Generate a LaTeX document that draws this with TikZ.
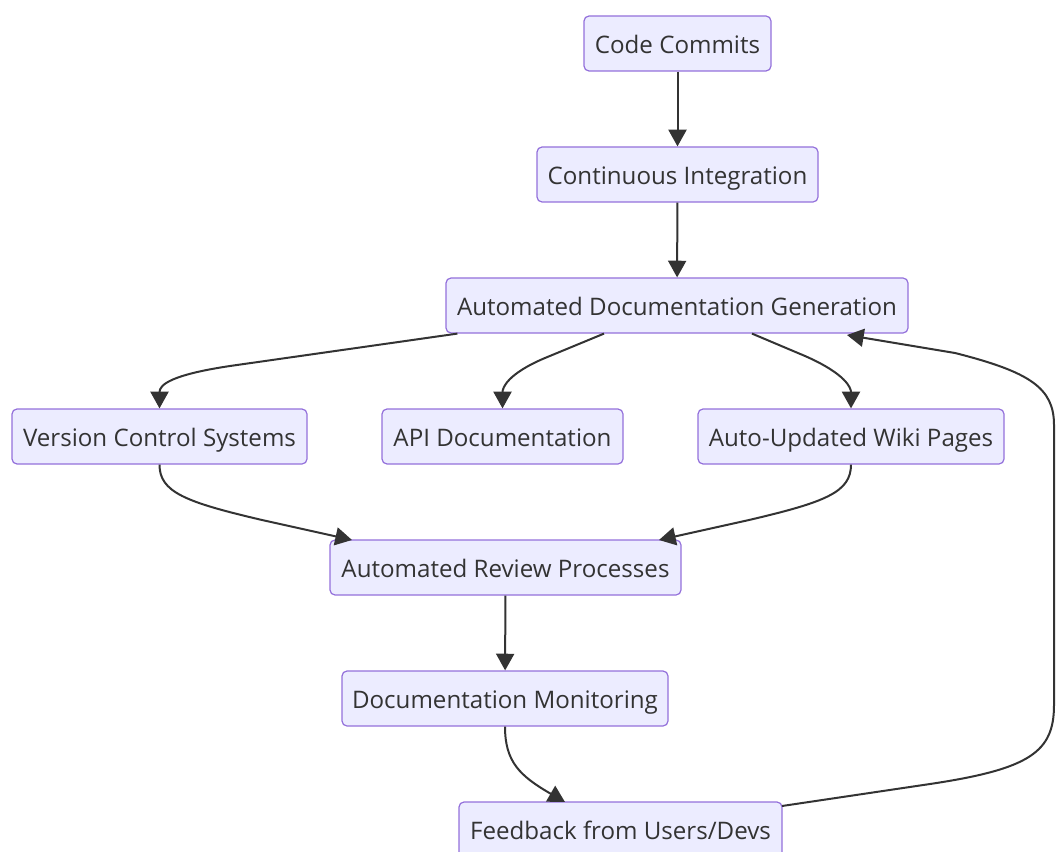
\documentclass[tikz,border=0pt]{standalone}
\usepackage{fontspec}
\setmainfont{Open Sans}
\usetikzlibrary{arrows.meta}
\definecolor{boxfill}{HTML}{ECECFF}
\definecolor{boxline}{HTML}{9370DB}
\definecolor{ink}{HTML}{333333}
\tikzset{
  flowbox/.style={draw=boxline, fill=boxfill, line width=0.9pt, rounded corners=3.75pt,
    minimum height=41.25pt, inner sep=0pt, text height=15.2pt, text depth=0pt,
    text=ink, font=\fontsize{18.1}{22}\selectfont},
  flow/.style={draw=ink, line width=1.5pt, -{Triangle[length=12.5pt,width=13.5pt]}}
}
\begin{document}
\begin{tikzpicture}[x=0.75pt,y=-0.75pt]
\useasboundingbox (0,0) rectangle (1056,852);
% nodes (centres and widths in pixel units)
\node[flowbox, minimum width=140.25pt] (cc)  at (677.5,43.5)  {Code Commits};
\node[flowbox, minimum width=210.75pt] (ci)  at (677.5,174.5) {Continuous Integration};
\node[flowbox, minimum width=346.5pt]  (adg) at (677,305.5)   {Automated Documentation Generation};
\node[flowbox, minimum width=221.25pt] (vcs) at (159.5,436.5) {Version Control Systems};
\node[flowbox, minimum width=180.75pt] (api) at (502.5,436.5) {API Documentation};
\node[flowbox, minimum width=229.5pt]  (wiki) at (851,436.5)  {Auto-Updated Wiki Pages};
\node[flowbox, minimum width=263.25pt] (rev) at (505.5,567.5) {Automated Review Processes};
\node[flowbox, minimum width=244.5pt]  (mon) at (505,698.5)   {Documentation Monitoring};
\node[flowbox, minimum width=242.25pt] (fb)  at (620.5,829.5) {Feedback from Users/Devs};
% straight links
\draw[flow] (cc) -- (ci);
\draw[flow] (ci) -- (adg);
\draw[flow] (rev) -- (mon);
% fan-out from the generator
\draw[flow] (adg.south west) ++(12,0) -- (230,366) .. controls (170,375) and (159.5,385) .. (vcs.north);
\draw[flow] (adg.south) ++(-73,0) -- (545,358) .. controls (507,374) and (502.5,388) .. (api.north);
\draw[flow] (adg.south) ++(75,0) -- (805,356) .. controls (846,374) and (851,388) .. (wiki.north);
% fan-in to the review step
\draw[flow] (vcs.south) .. controls (159.5,492) and (185,502) .. (262,520) -- (352,540);
\draw[flow] (wiki.south) .. controls (851,492) and (826,502) .. (749,520) -- (659,540);
% monitoring to feedback
\draw[flow] (mon.south) .. controls (505,762) and (520,776) .. (565,802);
% feedback loop back to the generator
\coordinate (fbout) at (782,806);
\coordinate (adgin) at (847,335);
\draw[flow] (fbout) -- (930,784) .. controls (1030,769) and (1054,752) .. (1054,705)
  -- (1054,425) .. controls (1054,388) and (1030,372) .. (955,353) -- (adgin);
\end{tikzpicture}
\end{document}
